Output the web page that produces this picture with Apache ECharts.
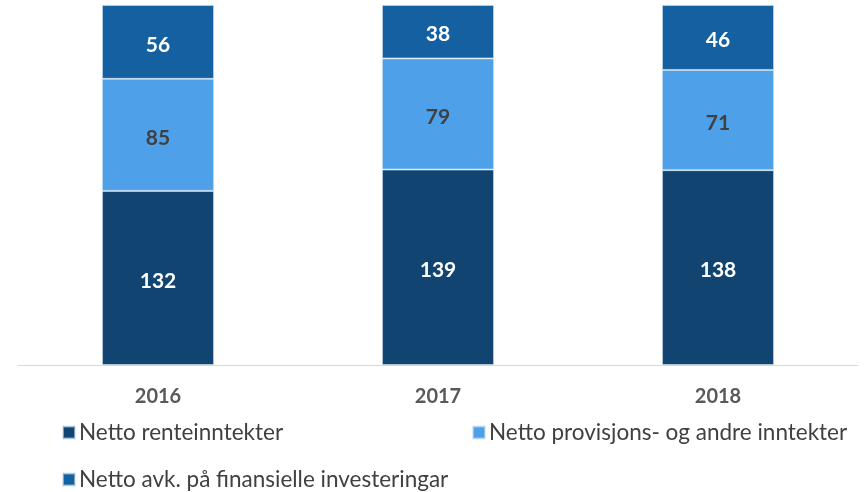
<!DOCTYPE html>
<html>
<head>
<meta charset="utf-8">
<script src="https://cdn.jsdelivr.net/npm/echarts@6/dist/echarts.min.js"></script>
<style>
  html, body { margin: 0; padding: 0; background: #fff; }
  #chart { width: 866px; height: 492px; }
</style>
</head>
<body>
<div id="chart"></div>
<script>
// årstal og verdiar (mill. kr)
const years = ['2016', '2017', '2018']
const renteinntekter = [132, 139, 138]
const provisjonar = [85, 79, 71]
const finansielle = [56, 38, 46]

const names = [
  'Netto renteinntekter',
  'Netto provisjons- og andre inntekter',
  'Netto avk. på finansielle investeringar'
]
const colors = ['#114471', '#4ea1e8', '#1560a1']
const labelColors = ['#ffffff', '#404040', '#ffffff']
const font = 'Lato, "Open Sans", sans-serif'

// kvar stolpe er skalert til full høgd (100 %)
const totals = years.map((_, i) => renteinntekter[i] + provisjonar[i] + finansielle[i])
const raw = [renteinntekter, provisjonar, finansielle]

const chart = echarts.init(document.getElementById('chart'))

const series = raw.map((vals, s) => ({
  name: names[s],
  type: 'bar',
  stack: 'total',
  barWidth: 112,
  data: vals.map((v, i) => ({ value: v / totals[i] * 100, raw: v })),
  itemStyle: { color: colors[s], borderColor: 'rgba(200,220,240,0.6)', borderWidth: 1 },
  label: {
    show: true,
    position: 'inside',
    offset: [0, 3],
    formatter: p => p.data.raw,
    color: labelColors[s],
    fontSize: 21,
    fontWeight: 'bold',
    fontFamily: font
  }
}))

const legendBase = {
  itemWidth: 12,
  itemHeight: 12,
  itemGap: 5,
  icon: 'rect',
  textStyle: { fontSize: 22.5, color: '#404040', fontFamily: font, padding: [0, 0, 0, -1] }
}

const option = {
  animation: false,
  grid: { left: 18, right: 8, top: 5, bottom: 127, containLabel: false },
  xAxis: {
    type: 'category',
    data: years,
    axisTick: { show: false },
    axisLine: { lineStyle: { color: '#d9d9d9', width: 1 } },
    axisLabel: {
      margin: 22,
      fontSize: 20,
      fontWeight: 'bold',
      color: '#595959',
      fontFamily: font
    }
  },
  yAxis: { type: 'value', min: 0, max: 100, show: false, splitLine: { show: false } },
  legend: [
    Object.assign({ data: [names[0]], left: 57, top: 416 }, legendBase),
    Object.assign({ data: [names[1]], left: 467, top: 416 }, legendBase),
    Object.assign({ data: [names[2]], left: 57, top: 463 }, legendBase)
  ],
  series: series
}

chart.setOption(option)
</script>
</body>
</html>
